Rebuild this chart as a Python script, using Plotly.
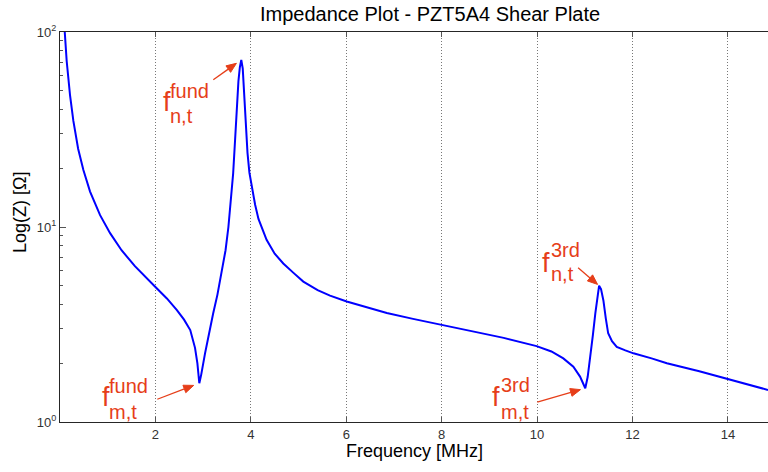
import math
import plotly.graph_objects as go

# Frequency [MHz] and impedance |Z| [Ohm]
freq = [0.08, 0.10, 0.14, 0.21, 0.28, 0.38, 0.49, 0.63, 0.84, 1.05, 1.29, 1.57, 1.80,
        1.99, 2.24, 2.45, 2.60, 2.73, 2.83, 2.88, 2.92, 2.96, 3.04, 3.12, 3.21, 3.30,
        3.39, 3.47, 3.53, 3.58, 3.63, 3.67, 3.70, 3.74, 3.77, 3.80, 3.83, 3.86, 3.89,
        3.93, 3.97, 4.02, 4.09, 4.16, 4.25, 4.33, 4.50, 4.68, 4.90, 5.10, 5.40, 5.66,
        6.01, 6.40, 6.85, 7.40, 8.00, 8.60, 9.30, 9.99, 10.30, 10.55, 10.76, 10.90,
        10.96, 11.01, 11.06, 11.11, 11.17, 11.22, 11.26, 11.30, 11.34, 11.39, 11.44,
        11.49, 11.57, 11.67, 11.85, 12.02, 12.40, 12.72, 13.40, 14.01, 14.50, 14.84]
impedance = [118, 99, 71, 47.5, 35, 25.2, 19.6, 15.2, 11.5, 9.3, 7.6, 6.3, 5.5,
             4.95, 4.3, 3.75, 3.35, 2.96, 2.4, 2.0, 1.58, 1.75, 2.25, 2.85, 3.6, 4.5,
             5.8, 7.6, 10.0, 13.5, 18.9, 28, 41, 56, 66, 72, 65, 48, 34,
             24, 19, 16, 13, 11, 9.6, 8.6, 7.3, 6.5, 5.8, 5.25, 4.75, 4.45,
             4.15, 3.88, 3.62, 3.38, 3.14, 2.93, 2.70, 2.45, 2.30, 2.12, 1.92, 1.71,
             1.58, 1.49, 1.70, 2.08, 2.8, 3.6, 4.4, 5.0, 4.8, 4.2, 3.4,
             2.85, 2.6, 2.43, 2.33, 2.25, 2.12, 2.00, 1.82, 1.66, 1.55, 1.46]

x_ticks = [2, 4, 6, 8, 10, 12, 14]
y_ticks = [1, 10, 100]
y_ticktext = ["10<sup>0</sup>", "10<sup>1</sup>", "10<sup>2</sup>"]
y_minor = [2, 3, 4, 5, 6, 7, 8, 9, 20, 30, 40, 50, 60, 70, 80, 90]

title = "Impedance Plot - PZT5A4 Shear Plate"
x_title = "Frequency [MHz]"
y_title = "Log(Z) [\u03a9]"

FONT = "Liberation Sans, Arial, sans-serif"
RED = "rgb(230,62,25)"

W, H = 768, 472
ML, MR, MT, MB = 60, 0, 32, 50
PW, PH = W - ML - MR, H - MT - MB


def px(p):
    return (p - ML) / PW


def py(p):
    return (H - MB - p) / PH


fig = go.Figure()
fig.add_trace(go.Scatter(x=freq, y=impedance, mode="lines",
                         line=dict(color="rgb(0,0,255)", width=2),
                         showlegend=False, hoverinfo="skip"))

annotations = []

# label pieces: (text, size, left px, center py)
labels = [
    ("f", 27, 161, 102), ("fund", 20, 168, 91), ("n,t", 20, 168, 116),
    ("f", 27, 100, 397), ("fund", 20, 107, 386), ("m,t", 20, 107, 412),
    ("f", 27, 540, 263), ("3rd", 20, 549, 250), ("n,t", 20, 549, 274),
    ("f", 27, 490, 397), ("3rd", 20, 499, 385), ("m,t", 20, 499, 412),
]
for t, s, lx, cy in labels:
    annotations.append(dict(text=t, xref="paper", yref="paper", x=px(lx), y=py(cy),
                            xanchor="left", yanchor="middle", showarrow=False,
                            font=dict(family=FONT, size=s, color=RED)))

# arrows pointing at resonance features (anchored on the data points)
i_fn = max(range(0, 45), key=lambda i: impedance[i] if freq[i] > 2 else 0)
i_fm = min(range(10, 35), key=lambda i: impedance[i])
i_3m = min(range(60, 72), key=lambda i: impedance[i])
i_3n = max(range(60, 80), key=lambda i: impedance[i])

shapes = []
HEAD_L, HEAD_W = 10, 4
for idx, ax, ay, so in [(i_fn, -28, 20, 6), (i_fm, -42, 16, 6),
                        (i_3n, -21, -18, 2), (i_3m, -48, 14, 5)]:
    tx, ty = ax, -ay                      # tail offset in pixels (y up)
    dist = math.hypot(tx, ty)
    dx, dy = -tx / dist, -ty / dist       # unit direction tail -> point
    tipx, tipy = -dx * so, -dy * so
    bx, by = tipx - dx * HEAD_L, tipy - dy * HEAD_L
    nx, ny = -dy, dx
    common = dict(xref="x", yref="y", xsizemode="pixel", ysizemode="pixel",
                  xanchor=freq[idx], yanchor=impedance[idx])
    shapes.append(dict(type="path", **common,
                       path=f"M{tx:.2f},{ty:.2f} L{bx:.2f},{by:.2f}",
                       line=dict(color=RED, width=1.3)))
    shapes.append(dict(type="path", **common,
                       path=(f"M{tipx:.2f},{tipy:.2f} L{bx + nx * HEAD_W:.2f},{by + ny * HEAD_W:.2f} "
                             f"L{bx - nx * HEAD_W:.2f},{by - ny * HEAD_W:.2f} Z"),
                       line=dict(color=RED, width=1), fillcolor=RED))

annotations.append(dict(text=title, xref="paper", yref="paper", x=px(430), y=py(14),
                        xanchor="center", yanchor="middle", showarrow=False,
                        font=dict(family=FONT, size=20, color="black")))
annotations.append(dict(text=x_title, xref="paper", yref="paper", x=px(415), y=py(451),
                        xanchor="center", yanchor="middle", showarrow=False,
                        font=dict(family=FONT, size=18, color="black")))
annotations.append(dict(text=y_title, xref="paper", yref="paper", x=px(20), y=py(213),
                        xanchor="center", yanchor="middle", showarrow=False, textangle=-90,
                        font=dict(family=FONT, size=18, color="black")))

fig.update_layout(
    width=W, height=H,
    margin=dict(l=ML, r=MR, t=MT, b=MB, pad=0),
    paper_bgcolor="white", plot_bgcolor="white",
    font=dict(family=FONT, size=13, color="#262626"),
    annotations=annotations,
    shapes=shapes,
    hovermode=False,
)
fig.update_xaxes(range=[0, 14.84], tickvals=x_ticks, ticks="inside", ticklen=5,
                 tickcolor="#555", showline=True, linecolor="#262626", linewidth=1,
                 mirror="ticks", showgrid=True, gridcolor="#777", griddash="1px,2px",
                 gridwidth=1, zeroline=False,
                 tickfont=dict(family=FONT, size=13, color="#333"))
fig.update_yaxes(type="log", range=[0, 2], tickvals=y_ticks, ticktext=y_ticktext,
                 ticks="inside", ticklen=6, tickcolor="#555", showline=True,
                 linecolor="#262626", linewidth=1, showgrid=False, zeroline=False,
                 minor=dict(tickvals=y_minor, ticks="inside", ticklen=3, tickcolor="#555",
                            showgrid=False),
                 tickfont=dict(family=FONT, size=13, color="#333"))

fig.write_html("out.html", config={"displayModeBar": False},
               post_script="document.body.style.margin='0';document.body.style.overflow='hidden';")
